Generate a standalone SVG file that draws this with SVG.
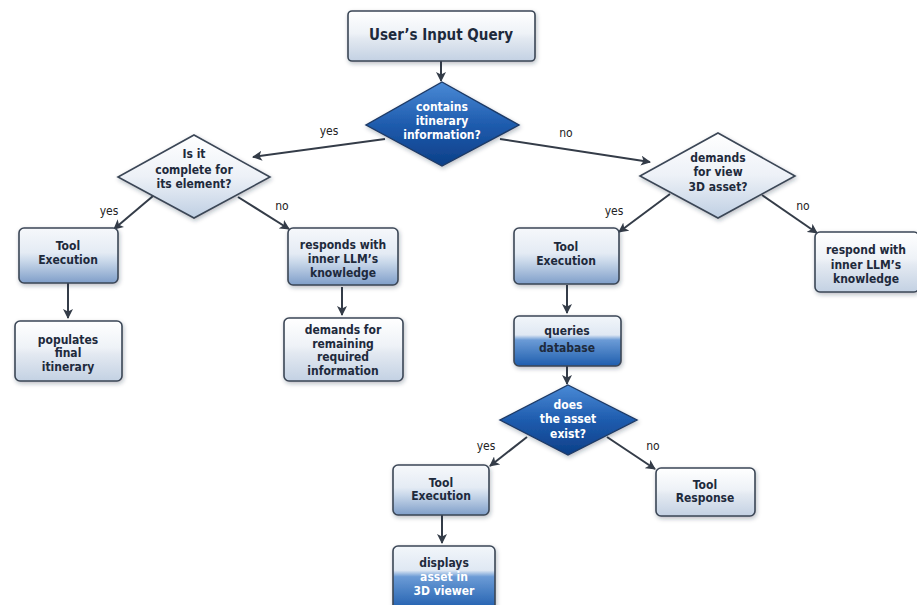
<svg xmlns="http://www.w3.org/2000/svg" width="917" height="605" viewBox="0 0 917 605">
<defs>
<style>
.box{stroke:#3b4656;stroke-width:1.6;filter:url(#sh)}
.lt{fill:url(#gLight)}
.tl{fill:url(#gTool)}
.bl{fill:url(#gBlue)}
.dk{fill:url(#gDark);stroke:#1d3a66;stroke-width:1.4;filter:url(#sh)}
.ld{fill:url(#gLD);stroke:#3b4656;stroke-width:1.6;filter:url(#sh)}
text{font-family:"DejaVu Sans Condensed","DejaVu Sans",sans-serif;font-weight:bold;font-size:12px;fill:#1e2a3c;text-anchor:middle}
.w{fill:#ffffff}
.lbl{font-weight:normal;font-size:12px;fill:#222}
.title{font-size:15px}
.con line{stroke:#343c48;stroke-width:2;marker-end:url(#ah)}
</style>
<linearGradient id="gLight" x1="0" y1="0" x2="0" y2="1">
<stop offset="0" stop-color="#ffffff"/><stop offset="0.45" stop-color="#eef2f7"/><stop offset="0.55" stop-color="#e3e9f1"/><stop offset="1" stop-color="#c3d1e3"/>
</linearGradient>
<linearGradient id="gTool" x1="0" y1="0" x2="0" y2="1">
<stop offset="0" stop-color="#f6f8fb"/><stop offset="0.45" stop-color="#e4ebf4"/><stop offset="0.6" stop-color="#c9d8ea"/><stop offset="1" stop-color="#7f9ec9"/>
</linearGradient>
<linearGradient id="gBlue" x1="0" y1="0" x2="0" y2="1">
<stop offset="0" stop-color="#f2f6fa"/><stop offset="0.38" stop-color="#dfe8f3"/><stop offset="0.48" stop-color="#6b9bd6"/><stop offset="1" stop-color="#1f5eae"/>
</linearGradient>
<linearGradient id="gDark" x1="0" y1="0" x2="0" y2="1">
<stop offset="0" stop-color="#4a8ad6"/><stop offset="0.5" stop-color="#1f5cae"/><stop offset="1" stop-color="#0c3f88"/>
</linearGradient>
<linearGradient id="gLD" x1="0" y1="0" x2="0" y2="1">
<stop offset="0" stop-color="#ffffff"/><stop offset="0.5" stop-color="#edf1f7"/><stop offset="1" stop-color="#bfcfe3"/>
</linearGradient>
<filter id="sh" x="-20%" y="-20%" width="140%" height="150%">
<feDropShadow dx="1" dy="2" stdDeviation="2" flood-color="#1c2a40" flood-opacity="0.3"/>
</filter>
<marker id="ah" viewBox="0 0 10 10" refX="9" refY="5" markerWidth="5" markerHeight="5" orient="auto" markerUnits="strokeWidth">
<path d="M0,0 L10,5 L0,10 L2.5,5 z" fill="#343c48"/>
</marker>
</defs>
<rect width="917" height="605" fill="#ffffff"/>

<g class="con" id="connectors">
<line x1="441" y1="61" x2="441" y2="81"/>
<line x1="385" y1="139" x2="253" y2="157"/>
<line x1="500" y1="139" x2="650" y2="162"/>
<line x1="153" y1="196" x2="114" y2="229"/>
<line x1="238" y1="197" x2="289" y2="229"/>
<line x1="68" y1="283" x2="68" y2="318"/>
<line x1="342" y1="287" x2="342" y2="315"/>
<line x1="670" y1="194" x2="619" y2="232"/>
<line x1="762" y1="195" x2="817" y2="233"/>
<line x1="567" y1="285" x2="567" y2="313"/>
<line x1="567" y1="366" x2="567" y2="384"/>
<line x1="527" y1="437" x2="490" y2="466"/>
<line x1="607" y1="437" x2="655" y2="469"/>
<line x1="442" y1="515" x2="442" y2="543"/>
</g>

<g id="labels">
<text class="lbl" x="329" y="135">yes</text>
<text class="lbl" x="566" y="137">no</text>
<text class="lbl" x="109" y="215">yes</text>
<text class="lbl" x="282" y="210">no</text>
<text class="lbl" x="614" y="215">yes</text>
<text class="lbl" x="803" y="210">no</text>
<text class="lbl" x="486" y="450">yes</text>
<text class="lbl" x="653" y="450">no</text>
</g>

<g id="n-query">
<rect class="box lt" x="348" y="11" width="187" height="50" rx="4"/>
<text class="title" x="441" y="40">User’s Input Query</text>
</g>

<g id="n-contains">
<polygon class="dk" points="442,82 519,125 442,166 366,125"/>
<text class="w" x="442" y="111">contains</text>
<text class="w" x="442" y="125">itinerary</text>
<text class="w" x="442" y="139">information?</text>
</g>

<g id="n-complete">
<polygon class="ld" points="194,135 270,177 194,218 118,177"/>
<text x="194" y="158">Is it</text>
<text x="194" y="174">complete for</text>
<text x="194" y="188">its element?</text>
</g>

<g id="n-demands3d">
<polygon class="ld" points="718,133 795,176 718,218 640,176"/>
<text x="718" y="162">demands</text>
<text x="718" y="176">for view</text>
<text x="718" y="191">3D asset?</text>
</g>

<g id="n-tool1">
<rect class="box tl" x="19" y="228" width="99" height="55" rx="5"/>
<text x="68" y="250">Tool</text>
<text x="68" y="264">Execution</text>
</g>

<g id="n-populates">
<rect class="box lt" x="15" y="321" width="107" height="60" rx="5"/>
<text x="68" y="344">populates</text>
<text x="68" y="357">final</text>
<text x="68" y="371">itinerary</text>
</g>

<g id="n-responds">
<rect class="box tl" x="288" y="228" width="110" height="57" rx="5"/>
<text x="343" y="249">responds with</text>
<text x="343" y="263">inner LLM’s</text>
<text x="343" y="277">knowledge</text>
</g>

<g id="n-remaining">
<rect class="box lt" x="284" y="318" width="119" height="63" rx="5"/>
<text x="343" y="334">demands for</text>
<text x="343" y="348">remaining</text>
<text x="343" y="361">required</text>
<text x="343" y="375">information</text>
</g>

<g id="n-tool2">
<rect class="box tl" x="514" y="228" width="105" height="56" rx="5"/>
<text x="566" y="251">Tool</text>
<text x="566" y="265">Execution</text>
</g>

<g id="n-respond">
<rect class="box lt" x="815" y="232" width="104" height="60" rx="5"/>
<text x="866" y="254">respond with</text>
<text x="866" y="269">inner LLM’s</text>
<text x="866" y="283">knowledge</text>
</g>

<g id="n-queries">
<rect class="box bl" x="514" y="316" width="107" height="50" rx="5"/>
<text x="567" y="335">queries</text>
<text x="567" y="352">database</text>
</g>

<g id="n-exist">
<polygon class="dk" points="568,385 637,420 568,455 500,420"/>
<text class="w" x="568" y="409">does</text>
<text class="w" x="568" y="423">the asset</text>
<text class="w" x="568" y="438">exist?</text>
</g>

<g id="n-tool3">
<rect class="box tl" x="393" y="465" width="96" height="50" rx="5"/>
<text x="441" y="487">Tool</text>
<text x="441" y="500">Execution</text>
</g>

<g id="n-response">
<rect class="box lt" x="656" y="468" width="99" height="48" rx="5"/>
<text x="705" y="489">Tool</text>
<text x="705" y="502">Response</text>
</g>

<g id="n-displays">
<rect class="box bl" x="393" y="546" width="102" height="64" rx="5"/>
<text x="444" y="567">displays</text>
<text class="w" x="444" y="581">asset in</text>
<text class="w" x="444" y="595">3D viewer</text>
</g>
</svg>
